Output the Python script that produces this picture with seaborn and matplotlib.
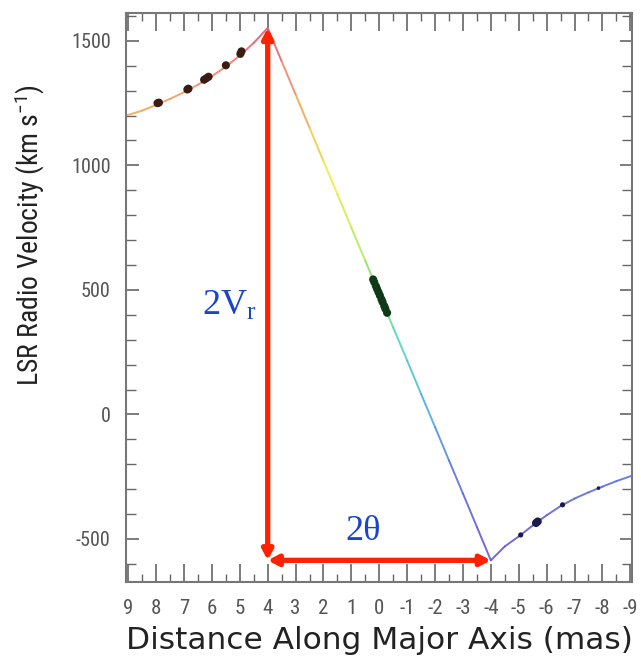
import numpy as np
import pandas as pd
import matplotlib
matplotlib.use("Agg")
import matplotlib.pyplot as plt
import seaborn as sns
from matplotlib import font_manager as fm
from matplotlib.collections import LineCollection
from matplotlib.colors import LinearSegmentedColormap, Normalize
from matplotlib.ticker import FixedLocator, MultipleLocator

# ---------------- data ----------------
line_x = [9.08, 8.5, 8.0, 7.5, 7.0, 6.5, 6.0, 5.5, 5.0, 4.5, 4.0,
          3.5, 3.0, 2.5, 2.0, 1.5, 1.0, 0.5, 0.0, -0.5, -1.0, -1.5,
          -2.0, -2.5, -3.0, -3.5, -4.0,
          -4.5, -5.0, -5.5, -6.0, -6.5, -7.0, -7.5, -8.0, -8.5, -9.06]
line_y = [1200, 1220, 1243, 1267, 1294, 1324, 1358, 1397, 1441, 1492, 1552,
          1418, 1285, 1151, 1017, 884, 750, 617, 483, 349, 216, 82,
          -51, -185, -318, -452, -586,
          -530, -490, -446, -405, -368, -338, -313, -290, -268, -246]

dot_x = [7.95, 7.90, 6.88, 6.84, 6.28, 6.20, 6.12, 5.50, 4.98, 4.94,
         0.22, 0.18, 0.12, 0.08, 0.03, -0.02, -0.08, -0.12, -0.18, -0.22, -0.28,
         -5.07, -5.62, -5.68, -6.57, -7.86]
dot_y = [1250, 1252, 1305, 1308, 1344, 1350, 1356, 1402, 1448, 1458,
         542, 531, 515, 504, 491, 478, 462, 451, 435, 424, 408,
         -484, -436, -430, -363, -296]
dot_group = ["red"] * 10 + ["green"] * 11 + ["blue"] * 5
dot_size = (["big"] * 10 + ["big"] * 11 +
            ["small", "big", "big", "small", "tiny"])

x_ticks = [9, 8, 7, 6, 5, 4, 3, 2, 1, 0, -1, -2, -3, -4, -5, -6, -7, -8, -9]
x_tick_labels = ["9", "8", "7", "6", "5", "4", "3", "2", "1", "0",
                 "-1", "-2", "-3", "-4", "-5", "-6", "-7", "-8", "-9"]
y_ticks = [-500, 0, 500, 1000, 1500]
y_tick_labels = ["-500", "0", "500", "1000", "1500"]

x_label = "Distance Along Major Axis (mas)"
y_label = r"LSR Radio Velocity (km s$^{\mathregular{-1}}$)"

vr_corner = (4.0, -586)
vr_top = (4.0, 1552)
theta_end = (-4.0, -586)


# ---------------- fonts ----------------
def find_narrow():
    files = [f.fname for f in fm.fontManager.ttflist]
    for key in ("LiberationSansNarrow-Regular", "ArialNarrow", "RobotoCondensed-Regular"):
        for p in files:
            if key in p:
                return p
    for p in files:
        b = p.split("/")[-1]
        if ("Narrow" in b or "Condensed" in b) and "Sans" in b and \
                "Bold" not in b and "Oblique" not in b and "Italic" not in b:
            return p
    return None


narrow_path = find_narrow()

sns.set_theme(style="white")
plt.rcParams["font.family"] = ["Liberation Sans", "DejaVu Sans"]
plt.rcParams["mathtext.default"] = "regular"

if narrow_path:
    tick_fp_x = fm.FontProperties(fname=narrow_path, size=15)
    tick_fp_y = fm.FontProperties(fname=narrow_path, size=14.5)
    ylab_fp = fm.FontProperties(fname=narrow_path, size=20)
else:
    tick_fp_x = fm.FontProperties(family="Liberation Sans", size=12.5)
    tick_fp_y = fm.FontProperties(family="Liberation Sans", size=12.5)
    ylab_fp = fm.FontProperties(family="Liberation Sans", size=17)

fig = plt.figure(figsize=(6.41, 6.57), dpi=100)
ax = fig.add_axes([126 / 641, 75 / 657, 506 / 641, 569 / 657])

# coloured model curve
cmap = LinearSegmentedColormap.from_list(
    "vel",
    [(0.00, "#6a52d2"), (0.15, "#5a6ee0"), (0.30, "#46b4e6"),
     (0.42, "#55d8b8"), (0.52, "#80e070"), (0.62, "#c8ec50"),
     (0.72, "#f0ec40"), (0.84, "#f2aa50"), (0.93, "#f07a74"),
     (1.00, "#e0506e")])
norm = Normalize(vmin=-600, vmax=1560)
pts = np.column_stack([line_x, line_y])
segs = np.stack([pts[:-1], pts[1:]], axis=1)
mid = 0.5 * (pts[:-1, 1] + pts[1:, 1])
lc = LineCollection(segs, colors=cmap(norm(mid)), linewidths=1.4,
                    alpha=0.9, capstyle="round", joinstyle="round")
ax.add_collection(lc)

# maser spots
df = pd.DataFrame({"x": dot_x, "y": dot_y, "g": dot_group, "s": dot_size})
sns.scatterplot(data=df, x="x", y="y", hue="g", size="s",
                palette={"red": "#3a1c10", "green": "#0f3a18", "blue": "#1c1c4c"},
                sizes={"big": 34, "small": 14, "tiny": 7},
                edgecolor="none", legend=False, ax=ax, zorder=3)

# red arrows
arrow_kw = dict(arrowstyle="<|-|>,head_length=0.32,head_width=0.17",
                color="#ff2200", lw=3.8, mutation_scale=18,
                shrinkA=0, shrinkB=0)
ax.annotate("", xy=vr_top, xytext=vr_corner, arrowprops=arrow_kw, zorder=4)
ax.annotate("", xy=theta_end, xytext=vr_corner, arrowprops=arrow_kw, zorder=4)

ax.text(6.36, 400, r"2V$_{\mathregular{r}}$", color="#1a44cc", fontsize=26,
        family=["Liberation Serif", "DejaVu Serif"], ha="left", va="baseline")
ax.text(1.21, -504, "2\u03b8", color="#1a44cc", fontsize=26,
        family=["Liberation Serif", "DejaVu Serif"], ha="left", va="baseline")

# axes
ax.set_xlim(9.08, -9.06)
ax.set_ylim(-673, 1612)
ax.xaxis.set_major_locator(FixedLocator(x_ticks))
ax.xaxis.set_minor_locator(MultipleLocator(0.5))
ax.yaxis.set_major_locator(FixedLocator(y_ticks))
ax.yaxis.set_minor_locator(MultipleLocator(100))
ax.set_xticklabels(x_tick_labels, fontproperties=tick_fp_x, color="#555555")
ax.set_yticklabels(y_tick_labels, fontproperties=tick_fp_y, color="#555555")

ax.tick_params(which="both", direction="in", top=True, right=True,
               bottom=True, left=True, color="#666666")
ax.tick_params(axis="x", which="major", length=13, width=1.2, pad=12)
ax.tick_params(axis="x", which="minor", length=6, width=1.0)
ax.tick_params(axis="y", which="major", length=9, width=1.2, pad=11)
ax.tick_params(axis="y", which="minor", length=7, width=1.0)
for sp in ax.spines.values():
    sp.set_color("#777777")
    sp.set_linewidth(1.5)

ax.set_xlabel(x_label, fontsize=22.5, color="#222222",
              family=["DejaVu Sans"])
ax.set_ylabel(y_label, fontproperties=ylab_fp, color="#222222")
ax.xaxis.set_label_coords(0.5, -0.078)
ax.yaxis.set_label_coords(-0.19, 0.61)
ax.yaxis.label.set_va("center")

fig.savefig("out.png", dpi=100)
